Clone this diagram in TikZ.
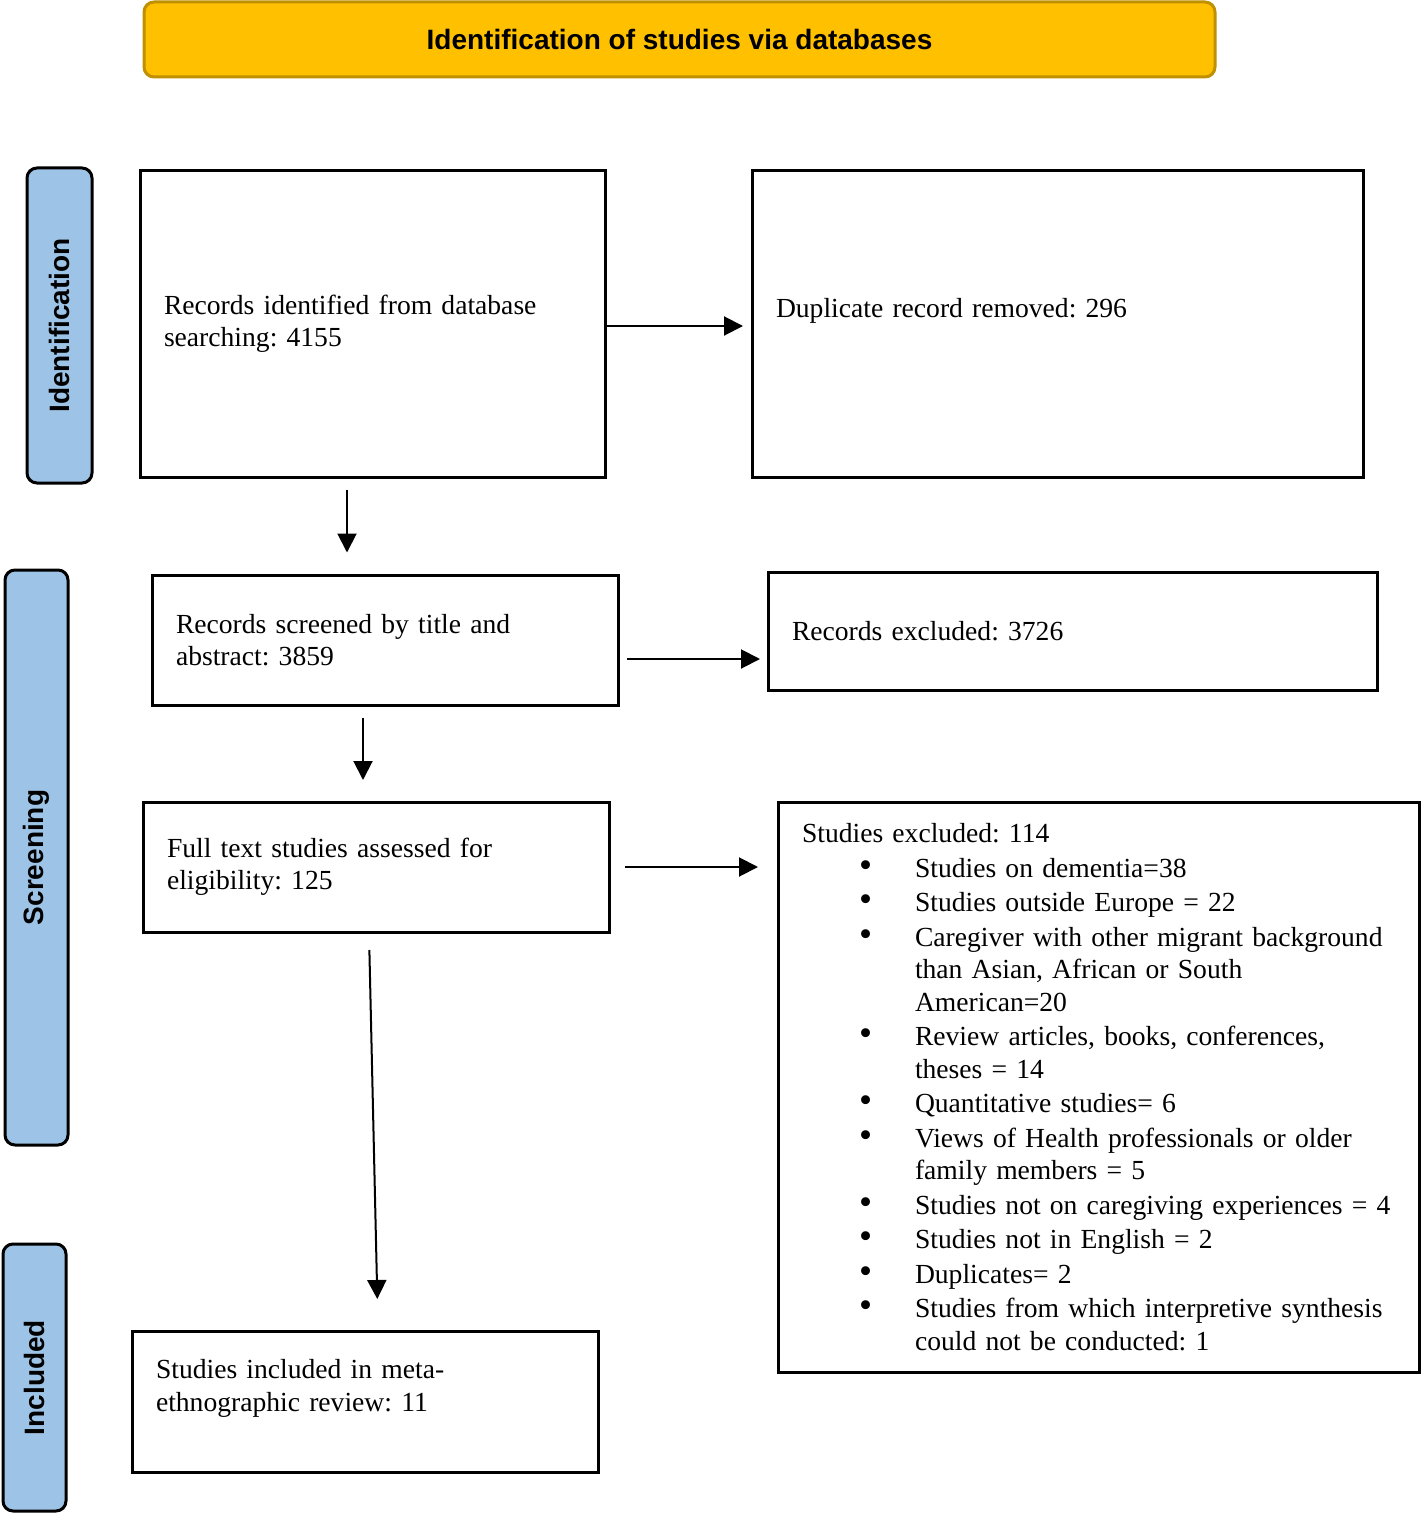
\documentclass[tikz,border=0pt]{standalone}
\usepackage{graphicx}
\usepackage{fontspec}
\setmainfont{Liberation Serif}
\newfontfamily\headfont{Liberation Sans}
\usetikzlibrary{arrows.meta,calc}

\definecolor{headfill}{RGB}{255,192,0}
\definecolor{headline}{RGB}{191,144,0}
\definecolor{sidefill}{RGB}{157,195,230}

\newcommand{\exbullet}{\makebox[56.5pt][l]{\hspace*{28.5pt}\scalebox{1.35}{\textbullet}}}
\newcommand{\exindent}{\hspace*{56.5pt}}

\tikzset{
  flowbox/.style={draw, line width=1.5pt, align=left, inner xsep=12pt, font=\fontsize{13.8}{16.25}\selectfont\frenchspacing},
  stagebox/.style={draw, line width=1.5pt, rounded corners=5pt, fill=sidefill, rotate=90, font=\headfont\bfseries\fontsize{14}{16}\selectfont},
  flowarrow/.style={line width=1pt, -{Triangle[length=9.5pt,width=9.5pt]}},
}

\begin{document}
\begin{tikzpicture}[x=0.5pt,y=0.5pt,yscale=-1,xscale=1]
\useasboundingbox (0,0) rectangle (1420,1514);

%Header
\node[draw=headline, line width=1.5pt, fill=headfill, rounded corners=5pt, minimum width=535.5pt, minimum height=37.5pt, font=\headfont\bfseries\fontsize{14}{16}\selectfont] (head) at (679.5,39.5) {Identification of studies via databases};

%Stage labels
\node[stagebox, minimum width=157.5pt, minimum height=32.5pt] (ident) at (59.5,325.5) {Identification};
\node[stagebox, minimum width=287.5pt, minimum height=31.5pt] (screen) at (36.5,857.5) {Screening};
\node[stagebox, minimum width=133.5pt, minimum height=31.5pt] (incl) at (34.5,1377.5) {Included};

%Identification
\node[flowbox, text width=208.5pt, minimum height=153pt] (found) at (372.5,324) {Records identified from database\\searching: 4155};
\node[flowbox, text width=281.5pt, minimum height=153pt] (dup) at (1057.5,324) {Duplicate record removed: 296\\\mbox{}};

%Screening
\node[flowbox, text width=209pt, minimum height=65pt] (screened) at (385,640) {Records screened by title and\\abstract: 3859};
\node[flowbox, text width=280.5pt, minimum height=59pt] (excl) at (1072.5,631) {Records excluded: 3726};
\node[flowbox, text width=209pt, minimum height=65pt] (assessed) at (376,867) {Full text studies assessed for\\eligibility: 125};
\node[flowbox, text width=296.5pt, minimum height=285pt] (studyexcl) at (1098.5,1087) {Studies excluded: 114\\[1pt]
\exbullet Studies on dementia=38\\[1pt]
\exbullet Studies outside Europe = 22\\[1pt]
\exbullet Caregiver with other migrant background\\
\exindent than Asian, African or South\\
\exindent American=20\\[1pt]
\exbullet Review articles, books, conferences,\\
\exindent theses = 14\\[1pt]
\exbullet Quantitative studies= 6\\[1pt]
\exbullet Views of Health professionals or older\\
\exindent family members = 5\\[1pt]
\exbullet Studies not on caregiving experiences = 4\\[1pt]
\exbullet Studies not in English = 2\\[1pt]
\exbullet Duplicates= 2\\[1pt]
\exbullet Studies from which interpretive synthesis\\
\exindent could not be conducted: 1};

%Included
\node[flowbox, text width=209pt, minimum height=70.5pt] (included) at (365,1401.5) {Studies included in meta-\\ethnographic review: 11\\\mbox{}};

%Arrows
\draw[flowarrow, shorten >=3.75pt] ($(found.east)+(0,2)$) -- ($(found.east -| dup.west)+(0,2)$);
\draw[flowarrow, shorten <=5.5pt, shorten >=10.5pt] ($(found.south)+(-25.5,0)$) -- ($(found.south |- screened.north)+(-25.5,0)$);
\draw[flowarrow, shorten <=3.75pt, shorten >=3.25pt] ($(screened.east)+(0,19)$) -- ($(screened.east -| excl.west)+(0,19)$);
\draw[flowarrow, shorten <=5.75pt, shorten >=10.25pt] ($(screened.south)+(-22,0)$) -- ($(screened.south |- assessed.north)+(-22,0)$);
\draw[flowarrow, shorten <=7.25pt, shorten >=9.25pt] (assessed.east) -- (assessed.east -| studyexcl.west);
\draw[flowarrow, shorten <=8.25pt, shorten >=15.25pt] ($(assessed.south)+(-7,0)$) -- ($(included.north)+(13,0)$);

\end{tikzpicture}
\end{document}
